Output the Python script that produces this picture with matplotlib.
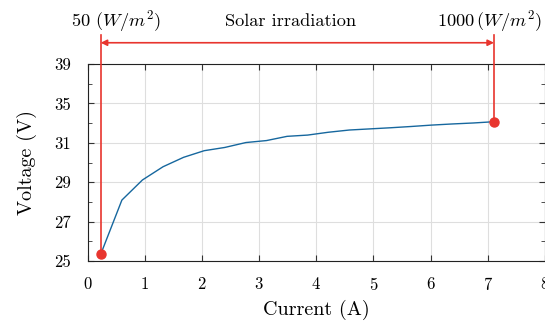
import matplotlib
matplotlib.use("Agg")
import matplotlib.pyplot as plt
import matplotlib.transforms as mtransforms
import numpy as np

plt.rcParams['font.family'] = 'serif'
plt.rcParams['font.serif'] = ['cmr10']
plt.rcParams['mathtext.fontset'] = 'cm'
plt.rcParams['axes.formatter.use_mathtext'] = True

current = [0.23, 0.60, 0.96, 1.32, 1.68, 2.04, 2.40, 2.77, 3.13, 3.49,
           3.85, 4.21, 4.58, 4.94, 5.30, 5.66, 6.02, 6.38, 6.75, 7.11]
voltage = [25.48, 29.33, 30.76, 31.70, 32.37, 32.84, 33.07, 33.42, 33.56, 33.86,
           33.95, 34.15, 34.31, 34.39, 34.47, 34.56, 34.66, 34.74, 34.81, 34.90]

x_ticks = [0, 1, 2, 3, 4, 5, 6, 7, 8]
y_tick_labels = ['25', '27', '29', '31', '35', '39']

blue = '#16679e'
red = '#e8352e'

fig = plt.figure(figsize=(5.45, 3.24), dpi=100)
ax = fig.add_axes([0.1607, 0.1944, 0.8390, 0.608])

ax.plot(current, voltage, color=blue, lw=1.0, zorder=3)
ax.plot([current[0], current[-1]], [voltage[0], voltage[-1]], 'o',
        color=red, ms=6.5, zorder=5, clip_on=False)

ax.set_xlim(0, 8)
ax.set_ylim(25, 39)
ax.set_xticks(x_ticks)
yt = np.linspace(25, 39, len(y_tick_labels))
ax.set_yticks(yt)
ax.set_yticklabels(y_tick_labels)
ax.set_yticks((yt[:-1] + yt[1:]) / 2, minor=True)
ax.grid(True, which='major', color='#dedede', lw=0.8)
ax.set_axisbelow(True)
ax.tick_params(which='both', direction='in', top=True, right=True,
               labelsize=12, color='#333333')
ax.tick_params(which='major', length=4)
ax.tick_params(which='minor', length=3)
ax.tick_params(axis='x', pad=11)
ax.tick_params(axis='y', pad=12)
for s in ax.spines.values():
    s.set_color('#222222')
    s.set_linewidth(0.8)

ax.set_xlabel('Current (A)', fontsize=14.5, labelpad=5)
ax.set_ylabel('Voltage (V)', fontsize=14.5, labelpad=12)

trans = mtransforms.blended_transform_factory(ax.transData, ax.transAxes)
for xi, yi in [(current[0], voltage[0]), (current[-1], voltage[-1])]:
    yfrac = (yi - 25) / 14
    ax.plot([xi, xi], [yfrac, 1.147], color=red, lw=1.2, transform=trans,
            clip_on=False, zorder=4)
ax.annotate('', xy=(current[0], 1.108), xytext=(current[-1], 1.108),
            xycoords=trans, textcoords=trans,
            arrowprops=dict(arrowstyle='<|-|>', color=red, lw=1.2,
                            mutation_scale=9, shrinkA=0, shrinkB=0))
ax.text(0.50, 1.215, r'50 $(W/m^2)$', transform=trans, ha='center',
        va='center', fontsize=13.2)
ax.text(3.55, 1.215, 'Solar irradiation', transform=trans, ha='center',
        va='center', fontsize=13.2)
ax.text(7.04, 1.215, r'1000$\,(W/m^2)$', transform=trans, ha='center',
        va='center', fontsize=13.2)

fig.savefig('out.png', dpi=100)
